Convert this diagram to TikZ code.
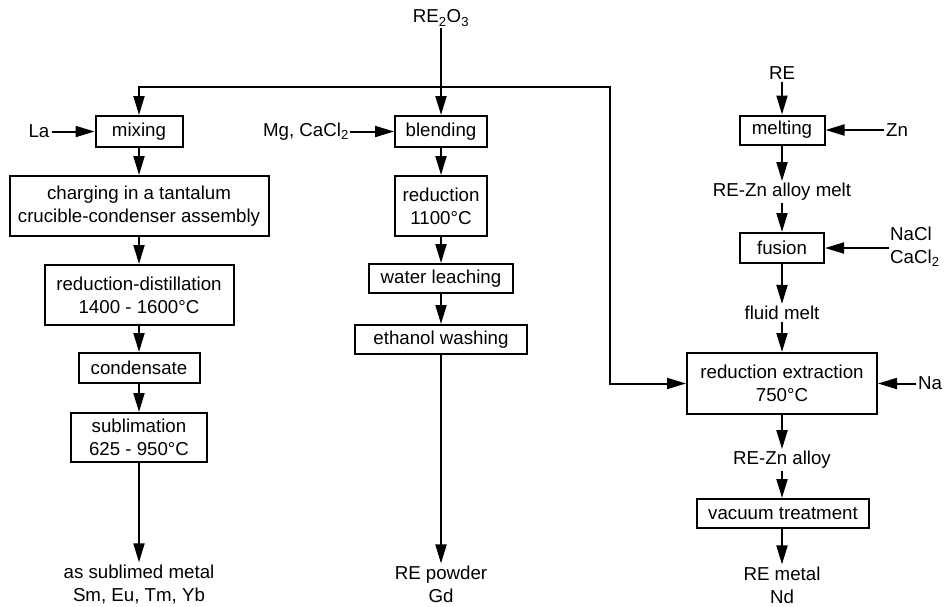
\documentclass[tikz,border=0pt]{standalone}
\usepackage{fontspec}
\setmainfont{Liberation Sans}
\usetikzlibrary{arrows.meta}
\begin{document}
\begin{tikzpicture}[x=1pt,y=-1pt,
  every node/.style={font=\fontsize{18.7pt}{23pt}\selectfont, inner sep=2pt},
  box/.style={draw, line width=2pt, inner sep=0pt, align=center},
  lbl/.style={align=center},
  flow/.style={line width=2pt, -{Triangle[length=19pt,width=11pt]}}]
\useasboundingbox (0,0) rectangle (949,606);

% feed
\node (feed) at (441,18) {RE\textsubscript{2}O\textsubscript{3}};
\coordinate (split) at (441,87);
\coordinate (turn) at (610,87);

% left column: metallothermic reduction-distillation
\node[box, minimum width=87pt, minimum height=31pt] (mix) at (139,131.5) {mixing};
\node[box, minimum width=259pt, minimum height=60pt] (charge) at (139,206) {charging in a tantalum\\crucible-condenser assembly};
\node[box, minimum width=189pt, minimum height=60pt] (redist) at (139,295) {reduction-distillation\\1400 - 1600°C};
\node[box, minimum width=121pt, minimum height=30pt] (cond) at (139,368) {condensate};
\node[box, minimum width=136pt, minimum height=49pt] (subl) at (139,437.5) {sublimation\\625 - 950°C};
\node[lbl] (outA) at (139,584) {as sublimed metal\\Sm, Eu, Tm, Yb};
\node (la) at (39,131.5) {La};

% middle column: calciothermic reduction
\node[box, minimum width=92pt, minimum height=31pt] (blend) at (441,131.5) {blending};
\node[box, minimum width=92pt, minimum height=60pt] (red) at (441,206) {reduction\\1100°C};
\node[box, minimum width=144pt, minimum height=29pt] (water) at (441,278.5) {water leaching};
\node[box, minimum width=172pt, minimum height=29pt] (eth) at (441,339.5) {ethanol washing};
\node[lbl] (outB) at (441,584) {RE powder\\Gd};
\node[anchor=east, inner sep=1pt] (mg) at (350,131.5) {Mg, CaCl\textsubscript{2}};

% right column: reduction extraction
\node (re) at (782,73) {RE};
\node[box, minimum width=85pt, minimum height=29pt] (melt) at (782,130) {melting};
\node[anchor=west] (zn) at (884,130) {Zn};
\node (alloymelt) at (782,192) {RE-Zn alloy melt};
\node[box, minimum width=84pt, minimum height=30pt] (fus) at (782,248) {fusion};
\node[anchor=west, align=left, inner sep=1pt] (salt) at (889,247) {NaCl\\CaCl\textsubscript{2}};
\node (fluid) at (782,313) {fluid melt};
\node[box, minimum width=190pt, minimum height=61pt] (redext) at (782,383.5) {reduction extraction\\750°C};
\node[anchor=west] (na) at (916,383.5) {Na};
\node (alloy) at (782,460) {RE-Zn alloy};
\node[box, minimum width=172pt, minimum height=29pt] (vac) at (783,513.5) {vacuum treatment};
\node[lbl] (outC) at (782,585) {RE metal\\Nd};

% distribution of the oxide
\draw[flow] (feed) -- (blend);
\draw[flow] (split) -| (mix);
\draw[flow] (split) -- (turn) |- (redext.west);

% left column flow
\draw[flow] (la) -- (mix);
\draw[flow] (mix) -- (charge);
\draw[flow] (charge) -- (redist);
\draw[flow] (redist) -- (cond);
\draw[flow] (cond) -- (subl);
\draw[flow] (subl) -- (outA);

% middle column flow
\draw[flow] (mg) -- (blend);
\draw[flow] (blend) -- (red);
\draw[flow] (red) -- (water);
\draw[flow] (water) -- (eth);
\draw[flow] (eth) -- (outB);

% right column flow
\draw[flow] (re) -- (melt);
\draw[flow] (zn) -- (melt);
\draw[flow] (melt) -- (alloymelt);
\draw[flow] (alloymelt) -- (fus);
\draw[flow] (salt.west |- fus.east) -- (fus);
\draw[flow] (fus) -- (fluid);
\draw[flow] (fluid) -- (redext);
\draw[flow] (na) -- (redext);
\draw[flow] (redext) -- (alloy);
\draw[flow] (alloy) -- (vac.north -| alloy.south);
\draw[flow] (vac.south -| outC.north) -- (outC);
\end{tikzpicture}
\end{document}
